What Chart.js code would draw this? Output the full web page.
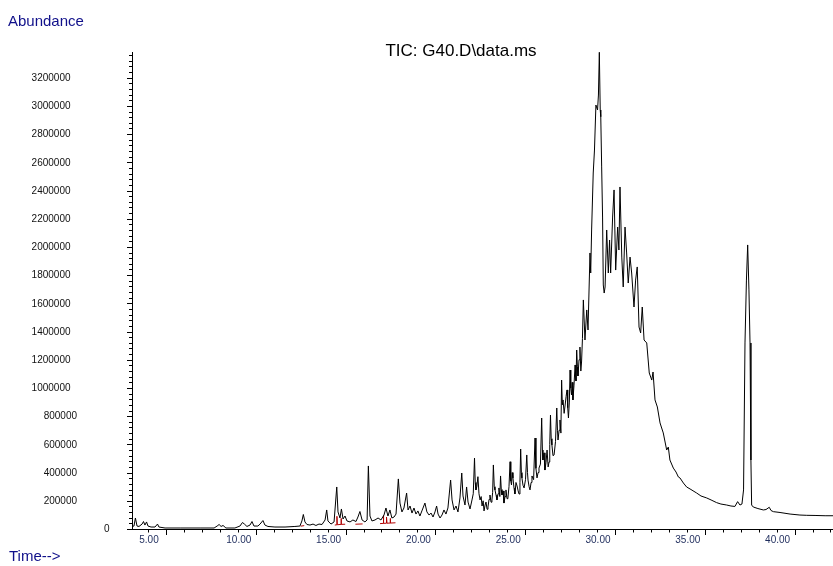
<!DOCTYPE html>
<html>
<head>
<meta charset="utf-8">
<title>TIC: G40.D\data.ms</title>
<script src="https://cdn.jsdelivr.net/npm/chart.js@4.4.0/dist/chart.umd.min.js"></script>
<style>
    html, body { margin: 0; padding: 0; background: #fff; }
    #wrap { width: 833px; height: 566px; position: relative; }
</style>
</head>
<body>
<div id="wrap"><canvas id="chartTIC"></canvas></div>
<script>
// retention time (min)
const times = [
    4.11, 4.22, 4.30, 4.39, 4.50, 4.67, 4.75, 4.83, 4.92, 5.00,
    5.17, 5.39, 5.53, 5.61, 5.95, 6.79, 7.90, 8.68, 8.85, 8.96,
    9.07, 9.18, 9.34, 9.84, 10.12, 10.26, 10.37, 10.51, 10.68, 10.79,
    10.90, 11.12, 11.24, 11.40, 11.51, 11.68, 12.07, 12.63, 13.18, 13.46,
    13.57, 13.65, 13.74, 13.85, 14.02, 14.19, 14.35, 14.52, 14.69, 14.86,
    14.95, 15.02, 15.19, 15.36, 15.51, 15.58, 15.69, 15.77, 15.86, 15.97,
    16.08, 16.25, 16.41, 16.58, 16.69, 16.80, 16.92, 17.08, 17.20, 17.27,
    17.36, 17.47, 17.64, 17.81, 17.97, 18.14, 18.25, 18.36, 18.47, 18.58,
    18.70, 18.81, 18.94, 19.03, 19.14, 19.25, 19.40, 19.48, 19.59, 19.70,
    19.81, 19.92, 20.03, 20.14, 20.25, 20.42, 20.53, 20.65, 20.76, 20.87,
    20.98, 21.07, 21.15, 21.26, 21.37, 21.48, 21.59, 21.70, 21.85, 21.93,
    22.04, 22.15, 22.26, 22.37, 22.47, 22.54, 22.65, 22.74, 22.82, 22.93,
    23.04, 23.11, 23.18, 23.22, 23.26, 23.31, 23.37, 23.43, 23.49, 23.55,
    23.60, 23.66, 23.71, 23.77, 23.82, 23.88, 23.93, 23.99, 24.04, 24.10,
    24.15, 24.19, 24.23, 24.28, 24.32, 24.38, 24.43, 24.49, 24.54, 24.59,
    24.63, 24.67, 24.71, 24.77, 24.82, 24.88, 24.93, 24.99, 25.04, 25.10,
    25.16, 25.20, 25.24, 25.28, 25.32, 25.38, 25.43, 25.49, 25.55, 25.61,
    25.66, 25.71, 25.75, 25.79, 25.82, 25.88, 25.94, 26.02, 26.09, 26.13,
    26.16, 26.22, 26.27, 26.33, 26.38, 26.47, 26.55, 26.60, 26.66, 26.72,
    26.77, 26.85, 26.92, 26.96, 26.99, 27.05, 27.10, 27.16, 27.22, 27.28,
    27.33, 27.37, 27.41, 27.45, 27.49, 27.55, 27.61, 27.69, 27.76, 27.80,
    27.83, 27.89, 27.94, 27.99, 28.03, 28.07, 28.11, 28.17, 28.22, 28.28,
    28.33, 28.37, 28.41, 28.46, 28.50, 28.54, 28.58, 28.62, 28.66, 28.72,
    28.78, 28.83, 28.87, 28.91, 28.94, 29.00, 29.05, 29.10, 29.14, 29.19,
    29.24, 29.33, 29.43, 29.50, 29.61, 29.65, 29.70, 29.79, 29.86, 29.94,
    30.03, 30.08, 30.13, 30.18, 30.21, 30.26, 30.31, 30.35, 30.40, 30.45,
    30.54, 30.63, 30.70, 30.76, 30.87, 30.95, 31.04, 31.15, 31.22, 31.28,
    31.38, 31.46, 31.56, 31.65, 31.74, 31.84, 31.93, 32.06, 32.15, 32.24,
    32.34, 32.43, 32.52, 32.62, 32.77, 32.91, 33.05, 33.12, 33.23, 33.36,
    33.51, 33.60, 33.69, 33.88, 33.97, 34.06, 34.25, 34.40, 34.53, 34.62,
    34.81, 34.99, 35.18, 35.55, 35.79, 36.11, 36.35, 36.66, 36.90, 37.22,
    37.46, 37.68, 37.83, 37.96, 38.07, 38.16, 38.24, 38.32, 38.39, 38.46,
    38.52, 38.57, 38.61, 38.70, 38.96, 39.26, 39.41, 39.59, 39.69, 39.82,
    40.19, 40.75, 41.30, 41.68, 42.14, 42.70, 43.14
];

// total ion current
const abundance = [
    18000, 21000, 78000, 21000, 18000, 35000, 53000, 28000, 50000, 21000,
    14000, 14000, 35000, 14000, 7000, 7000, 7000, 7000, 21000, 32000,
    18000, 25000, 7000, 7000, 21000, 46000, 35000, 18000, 28000, 53000,
    21000, 21000, 35000, 60000, 28000, 18000, 14000, 14000, 18000, 21000,
    57000, 103000, 50000, 32000, 28000, 35000, 25000, 35000, 32000, 64000,
    135000, 57000, 35000, 50000, 298000, 121000, 78000, 142000, 71000, 92000,
    57000, 50000, 64000, 53000, 85000, 124000, 64000, 50000, 64000, 447000,
    92000, 57000, 64000, 78000, 64000, 99000, 149000, 92000, 135000, 78000,
    85000, 106000, 355000, 184000, 121000, 149000, 255000, 135000, 163000, 113000,
    149000, 106000, 128000, 92000, 128000, 184000, 121000, 99000, 113000, 85000,
    121000, 163000, 106000, 78000, 99000, 135000, 106000, 149000, 347000, 206000,
    135000, 163000, 121000, 220000, 397000, 234000, 170000, 298000, 191000, 142000,
    206000, 250000, 503000, 330000, 277000, 300000, 371000, 250000, 206000, 230000,
    163000, 200000, 128000, 170000, 191000, 140000, 156000, 210000, 241000, 190000,
    206000, 260000, 454000, 300000, 277000, 240000, 206000, 250000, 291000, 230000,
    376000, 280000, 241000, 270000, 184000, 230000, 277000, 215000, 220000, 300000,
    477000, 340000, 312000, 400000, 362000, 290000, 248000, 330000, 305000, 270000,
    248000, 330000, 567000, 400000, 362000, 310000, 291000, 350000, 525000, 400000,
    347000, 300000, 277000, 330000, 376000, 350000, 645000, 430000, 362000, 400000,
    432000, 460000, 787000, 560000, 489000, 540000, 418000, 470000, 560000, 440000,
    475000, 600000, 808000, 640000, 596000, 520000, 525000, 620000, 858000, 700000,
    631000, 700000, 773000, 680000, 1056000, 880000, 915000, 820000, 872000, 940000,
    986000, 860000, 787000, 900000, 1127000, 1000000, 950000, 1040000, 915000, 1020000,
    1163000, 1050000, 1269000, 1150000, 1085000, 1200000, 1290000, 1120000, 1184000, 1350000,
    1624000, 1340000, 1553000, 1411000, 1957000, 1815000, 2120000, 2524000, 2687000, 3006000,
    2971000, 3077000, 3380000, 2971000, 2923000, 2567000, 2212000, 1730000, 1673000, 1716000,
    2120000, 1815000, 2049000, 1815000, 2212000, 2404000, 1836000, 2141000, 1978000, 2425000,
    1928000, 1716000, 2141000, 1957000, 1744000, 1928000, 1815000, 1574000, 1765000, 1858000,
    1432000, 1390000, 1574000, 1340000, 1319000, 1106000, 1056000, 1113000, 915000, 865000,
    752000, 716000, 681000, 560000, 581000, 489000, 432000, 404000, 369000, 362000,
    326000, 298000, 284000, 255000, 234000, 220000, 206000, 187000, 177000, 170000,
    163000, 160000, 194000, 170000, 177000, 277000, 1319000, 1765000, 2014000, 1695000,
    1319000, 489000, 170000, 156000, 145000, 135000, 138000, 154000, 131000, 123000,
    117000, 106000, 99000, 97000, 96000, 94000, 94000
];

// integration baselines (red), null = break
const baseTimes = [
    13.50, 13.70, 13.71,
    15.40, 15.52, 15.52, 15.54, 15.75, 15.75, 15.77, 15.98, 15.99,
    16.55, 16.95, 16.96,
    17.92, 18.10, 18.10, 18.13, 18.28, 18.28, 18.31, 18.48, 18.48, 18.51, 18.78
];
const baseValues = [
    20000, 24000, null,
    28000, 30000, 90000, 30000, 33000, 75000, 33000, 34000, null,
    34000, 36000, null,
    38000, 40000, 95000, 40000, 41000, 85000, 41000, 42000, 75000, 42000, 44000
];

const xMin = 4.11, xMax = 43.14;
const yMin = 0, yMax = 3382000;
const xTickValues = [5, 10, 15, 20, 25, 30, 35, 40];
const xTickLabels = ["5.00", "10.00", "15.00", "20.00", "25.00", "30.00", "35.00", "40.00"];
const yTickLabels = [0, 200000, 400000, 600000, 800000, 1000000, 1200000, 1400000, 1600000,
    1800000, 2000000, 2200000, 2400000, 2600000, 2800000, 3000000, 3200000];
const xMinorStep = 1;
const yMinorStep = 40000;

const FONT = '"Liberation Sans", Arial, Helvetica, sans-serif';

// axis ticks, tick labels and captions in ChemStation style
const chemAxes = {
    id: "chemAxes",
    afterDraw(chart) {
        const { ctx, chartArea, scales: { x, y } } = chart;
        const left = Math.round(chartArea.left);
        const bottom = Math.round(chartArea.bottom);
        ctx.save();
        ctx.strokeStyle = "#000";
        ctx.lineWidth = 1;

        // y ticks (left of axis)
        ctx.beginPath();
        for (let v = yMin; v <= yMax; v += yMinorStep) {
            const py = Math.round(y.getPixelForValue(v)) + 0.5;
            const len = v % 200000 === 0 ? 5 : 3;
            ctx.moveTo(left - len, py);
            ctx.lineTo(left, py);
        }
        // x ticks (below axis)
        for (let m = Math.ceil(xMin); m <= xMax; m += xMinorStep) {
            const px = Math.round(x.getPixelForValue(m)) + 0.5;
            const len = m % 5 === 1 ? 6 : 3.5;
            ctx.moveTo(px, bottom);
            ctx.lineTo(px, bottom + len);
        }
        ctx.stroke();

        // y labels
        ctx.font = "10px " + FONT;
        ctx.fillStyle = "#111";
        ctx.textAlign = "right";
        ctx.textBaseline = "middle";
        yTickLabels.forEach(v => {
            const s = String(v);
            ctx.fillText(s, 116 - 6.5 * s.length, y.getPixelForValue(v) + 0.5);
        });

        // x labels
        ctx.fillStyle = "#1e2c5c";
        ctx.textAlign = "center";
        ctx.textBaseline = "alphabetic";
        xTickValues.forEach((m, i) => {
            ctx.fillText(xTickLabels[i], x.getPixelForValue(m) + 1, 543);
        });

        // captions
        ctx.font = "15px " + FONT;
        ctx.fillStyle = "#10108a";
        ctx.textAlign = "left";
        ctx.fillText("Abundance", 8, 26);
        ctx.fillText("Time-->", 9, 561);

        ctx.font = "17px " + FONT;
        ctx.fillStyle = "#000";
        ctx.textAlign = "center";
        ctx.fillText("TIC: G40.D\\data.ms", 461, 56);
        ctx.restore();
    }
};

document.addEventListener("DOMContentLoaded", () => {
    const ctx = document.getElementById("chartTIC");
    if (!ctx) return;

    const tic = times.map((t, i) => ({ x: t, y: abundance[i] }));
    const base = baseTimes.map((t, i) => ({ x: t, y: baseValues[i] }));

    new Chart(ctx, {
        type: "line",
        data: {
            datasets: [
                {
                    label: "TIC",
                    data: tic,
                    borderColor: "#000",
                    borderWidth: 1,
                    pointRadius: 0,
                    tension: 0,
                    order: 1
                },
                {
                    label: "baseline",
                    data: base,
                    borderColor: "#b00000",
                    borderWidth: 1,
                    pointRadius: 0,
                    tension: 0,
                    spanGaps: false,
                    order: 2
                }
            ]
        },
        options: {
            responsive: true,
            maintainAspectRatio: false,
            animation: false,
            events: [],
            layout: { padding: { left: 132, top: 52, right: 0, bottom: 37 } },
            plugins: {
                legend: { display: false },
                tooltip: { enabled: false },
                title: { display: false }
            },
            scales: {
                x: {
                    type: "linear",
                    min: xMin,
                    max: xMax,
                    grid: { display: false, drawTicks: false },
                    ticks: { display: false },
                    border: { display: true, color: "#000", width: 1 }
                },
                y: {
                    type: "linear",
                    min: yMin,
                    max: yMax,
                    grid: { display: false, drawTicks: false },
                    ticks: { display: false },
                    border: { display: true, color: "#000", width: 1 }
                }
            }
        },
        plugins: [chemAxes]
    });
});
</script>
</body>
</html>
